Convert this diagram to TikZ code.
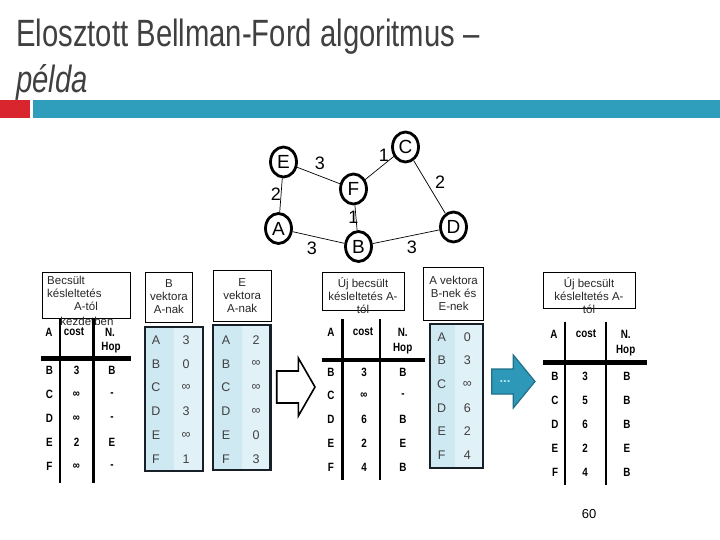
\documentclass[tikz,border=0pt]{standalone}
\usepackage{fontspec}
\setmainfont{Liberation Sans}
\newfontfamily\titlefont[FakeStretch=0.77]{Liberation Sans}
\newfontfamily\narrowfont[FakeStretch=0.82]{Liberation Sans}
\usetikzlibrary{positioning,shapes.geometric}
\definecolor{titlegray}{RGB}{64,64,64}
\definecolor{barteal}{RGB}{46,158,188}
\definecolor{barred}{RGB}{217,38,46}
\definecolor{cellblue}{RGB}{206,233,242}
\definecolor{cellpale}{RGB}{225,241,248}
\definecolor{framedark}{RGB}{22,32,38}
\definecolor{arrowteal}{RGB}{46,152,184}
\definecolor{arrowedge}{RGB}{32,112,136}

\begin{document}
\begin{tikzpicture}[x=1pt,y=1pt,yscale=-1,
	vertex/.style={ellipse,draw,line width=2.8pt,minimum width=26,minimum height=30,inner sep=0pt,font=\fontsize{19}{19}\selectfont},
	wlabel/.style={font=\fontsize{18}{18}\selectfont},
	edge/.style={line width=0.7pt},
	capbox/.style={draw,line width=0.6pt,anchor=north west,inner sep=0pt},
	small/.style={font=\fontsize{11.5}{13}\selectfont,text=black!85,align=center,inner sep=0pt},
	cell/.style={font=\fontsize{12.5}{12}\selectfont,text=black!75},
	bcell/.style={font=\narrowfont\bfseries\fontsize{12}{12}\selectfont},
	colrule/.style={line width=2.6pt},
	headrule/.style={line width=4.5pt},
	frame/.style={draw=framedark,line width=2.2pt}]
	\useasboundingbox (0,0) rectangle (720,540);
	
	% title bar
	\fill[barred] (0,100) rectangle (30,118);
	\fill[barteal] (33,100) rectangle (720,118);
	\node[anchor=base west,inner sep=0pt,font=\titlefont\fontsize{38}{46}\selectfont,text=titlegray] (title) at (16,47) {Elosztott Bellman-Ford algoritmus –};
	\node[anchor=base west,inner sep=0pt,font=\titlefont\itshape\fontsize{38}{46}\selectfont,text=titlegray] (title2) at (16,93) {példa};
	
	% graph
	\node[vertex] (nE) at (283.5,162) {E};
	\node[vertex] (nC) at (405.5,147) {C};
	\node[vertex] (nF) at (353.5,189) {F};
	\node[vertex] (nA) at (278.5,228.5) {A};
	\node[vertex] (nB) at (358.5,246.5) {B};
	\node[vertex] (nD) at (453.5,227) {D};
	\draw[edge] (nE) -- (nF);
	\draw[edge] (nF) -- (nC);
	\draw[edge] (nC) -- (nD);
	\draw[edge] (nE) -- (nA);
	\draw[edge] (nF) -- (nB);
	\draw[edge] (nA) -- (nB);
	\draw[edge] (nB) -- (nD);
	\node[wlabel] (wEF) at (320,163) {3};
	\node[wlabel] (wFC) at (384,155) {1};
	\node[wlabel] (wCD) at (440,182) {2};
	\node[wlabel] (wEA) at (276,194) {2};
	\node[wlabel] (wFB) at (353.5,217) {1};
	\node[wlabel] (wAB) at (312,248.5) {3};
	\node[wlabel] (wBD) at (412,247) {3};
	
	% estimate at start
	\node[capbox,minimum width=88.3,minimum height=46.6] (boxL) at (41.7,271.7) {};
	\node[small,anchor=north west,align=left] (txtL) at (47,276) {Becsült\\késleltetés\\\hspace*{27pt}A-tól};
	\node[small] (txtL2) at (87,321.5) {kezdetben};
	\node[bcell] (hLa) at (49,332) {A};
	\node[bcell] (hLc) at (74,332) {cost};
	\node[bcell] (hLn) at (110,332) {N.};
	\node[bcell] (hLh) at (111,348) {Hop};
	\draw[colrule] (60,318) -- (60,483);
	\draw[colrule] (93.3,318) -- (93.3,483);
	\draw[headrule] (40.5,358.3) -- (131,358.3);
	\foreach \l/\v/\h [count=\i from 0] in {B/3/B,C/∞/-,D/∞/-,E/2/E,F/∞/-}{
		\node[bcell] (L\l) at (49.5,370+24.2*\i) {\l};
		\node[bcell] (Lc\l) at (76.5,370+24.2*\i) {\v};
		\node[bcell] (Lh\l) at (112,370+24.2*\i) {\h};
	}
	
	% vector from B
	\node[capbox,minimum width=47.3,minimum height=50] (boxB) at (145,271.7) {};
	\node[small] (txtB) at (boxB.center) {B\\vektora\\A-nak};
	\fill[cellblue] (145,326.7) rectangle (173.5,471);
	\fill[cellpale] (173.5,326.7) rectangle (202.7,471);
	\draw[frame] (145,326.7) rectangle (202.7,471);
	\foreach \l/\v [count=\i from 0] in {A/3,B/0,C/∞,D/3,E/∞,F/1}{
		\node[cell] (B\l) at (156,340+23.8*\i) {\l};
		\node[cell] (Bv\l) at (186,340+23.8*\i) {\v};
	}
	
	% vector from E
	\node[capbox,minimum width=57.7,minimum height=51] (boxE) at (213,270) {};
	\node[small] (txtE) at (boxE.center) {E\\vektora\\A-nak};
	\fill[cellblue] (213,325) rectangle (241.5,470);
	\fill[cellpale] (241.5,325) rectangle (270.5,470);
	\draw[frame] (213,325) rectangle (270.5,470);
	\foreach \l/\v [count=\i from 0] in {A/2,B/∞,C/∞,D/∞,E/0,F/3}{
		\node[cell] (E\l) at (226,340+23.8*\i) {\l};
		\node[cell] (Ev\l) at (256,340+23.8*\i) {\v};
	}
	
	% hollow arrow
	\draw[line width=1.6pt,fill=white,line join=miter] (276.7,371) -- (298.3,371) -- (298.3,358) -- (315,387) -- (298.3,416) -- (298.3,403) -- (276.7,403) -- cycle;
	
	% new estimate
	\node[capbox,minimum width=81.7,minimum height=38.3] (boxM) at (322.3,271.7) {};
	\node[small] (txtM) at (363,295.5) {Új becsült\\késleltetés A-\\tól};
	\node[bcell] (hMa) at (331,332) {A};
	\node[bcell] (hMc) at (363,332) {cost};
	\node[bcell] (hMn) at (402.7,332) {N.};
	\node[bcell] (hMh) at (402.7,349) {Hop};
	\draw[colrule] (342.7,319) -- (342.7,480);
	\draw[colrule] (380,319) -- (380,480);
	\draw[headrule] (322.3,360) -- (425,360);
	\foreach \l/\v/\h [count=\i from 0] in {B/3/B,C/∞/-,D/6/B,E/2/E,F/4/B}{
		\node[bcell] (M\l) at (331,372+23.75*\i) {\l};
		\node[bcell] (Mc\l) at (364,372+23.75*\i) {\v};
		\node[bcell] (Mh\l) at (403,372+23.75*\i) {\h};
	}
	
	% vector from A
	\node[capbox,minimum width=60,minimum height=53.3] (boxA) at (423.3,266.7) {};
	\node[small] (txtA) at (boxA.center) {A vektora\\B-nek és\\E-nek};
	\fill[cellblue] (430,324.3) rectangle (455,468.3);
	\fill[cellpale] (455,324.3) rectangle (483.3,468.3);
	\draw[frame] (430,324.3) rectangle (483.3,468.3);
	\foreach \l/\v [count=\i from 0] in {A/0,B/3,C/∞,D/6,E/2,F/4}{
		\node[cell] (A\l) at (441.7,337+23.6*\i) {\l};
		\node[cell] (Av\l) at (467.3,337+23.6*\i) {\v};
	}
	
	% teal arrow
	\draw[fill=arrowteal,draw=arrowedge,line width=1.2pt,line join=miter] (491.7,369) -- (513.3,369) -- (513.3,355) -- (535,381.5) -- (513.3,408) -- (513.3,394) -- (491.7,394) -- cycle;
	\node[font=\bfseries\fontsize{13}{13}\selectfont,text=cyan!30] (dots) at (505,382) {...};
	
	% final estimate
	\node[capbox,minimum width=91.7,minimum height=36.6] (boxR) at (543.3,271.7) {};
	\node[small] (txtR) at (589,295.5) {Új becsült\\késleltetés A-\\tól};
	\node[bcell] (hRa) at (554,334) {A};
	\node[bcell] (hRc) at (586,334) {cost};
	\node[bcell] (hRn) at (625.7,334) {N.};
	\node[bcell] (hRh) at (625.7,351) {Hop};
	\draw[colrule] (565,321.7) -- (565,485);
	\draw[colrule] (606,321.7) -- (606,485);
	\draw[headrule] (543.3,362.7) -- (646.7,362.7);
	\foreach \l/\v/\h [count=\i from 0] in {B/3/B,C/5/B,D/6/B,E/2/E,F/4/B}{
		\node[bcell] (R\l) at (555,376+24.2*\i) {\l};
		\node[bcell] (Rc\l) at (585,376+24.2*\i) {\v};
		\node[bcell] (Rh\l) at (627,376+24.2*\i) {\h};
	}
	
	% page number
	\node[font=\fontsize{13}{13}\selectfont] (pnum) at (589,514) {60};
\end{tikzpicture}
\end{document}
